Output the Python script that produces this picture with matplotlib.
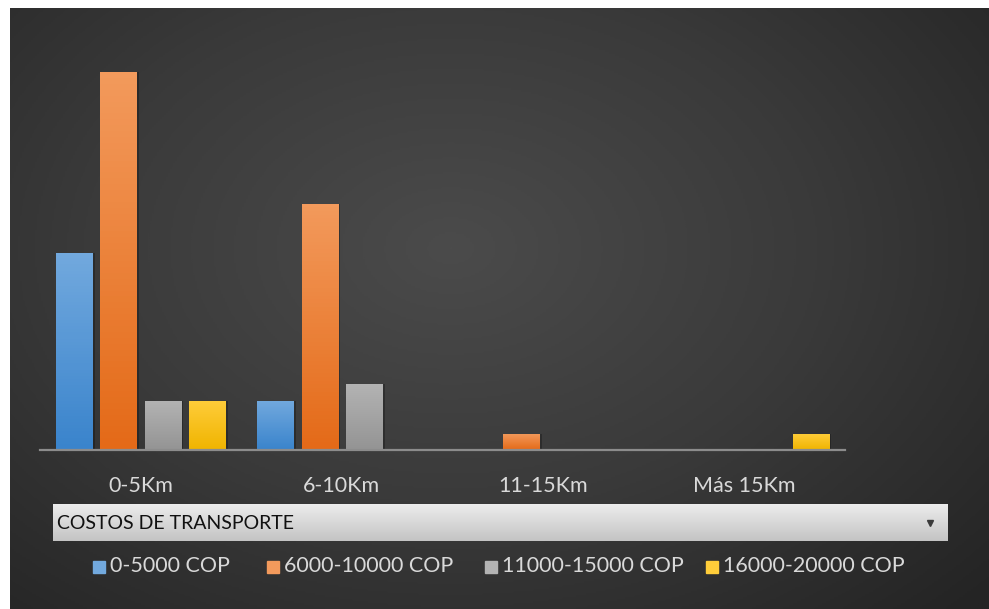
import numpy as np
import matplotlib

matplotlib.use("Agg")
import matplotlib.pyplot as plt
from matplotlib.colors import LinearSegmentedColormap
from matplotlib.patches import Rectangle

plt.rcParams["font.family"] = ["Lato", "DejaVu Sans"]

categories = ["0-5Km", "6-10Km", "11-15Km", "Más 15Km"]
series = ["0-5000 COP", "6000-10000 COP", "11000-15000 COP", "16000-20000 COP"]
values = {
    "0-5000 COP": [12, 3, 0, 0],
    "6000-10000 COP": [23, 15, 1, 0],
    "11000-15000 COP": [3, 4, 0, 0],
    "16000-20000 COP": [3, 0, 0, 1],
}
field_title = "COSTOS DE TRANSPORTE"

# (top, bottom) shades for each series' bar gradient
shades = [("#72a9de", "#3a84cc"), ("#f39a5c", "#e46a18"),
          ("#b3b3b3", "#949494"), ("#ffcd3a", "#f0b400")]

W, H = 989, 609
fig = plt.figure(figsize=(W / 100, H / 100), dpi=100, facecolor="white")


def fx(px):
    return px / W


def fy(py):
    return 1 - py / H


# dark panel with a soft radial highlight
bg = fig.add_axes([fx(10), 0, 1 - fx(10), 1 - 8 / H])
bg.set_axis_off()
yy, xx = np.mgrid[0:1:300j, 0:1:500j]
r = np.sqrt(((xx - 0.45) / 0.75) ** 2 + ((yy - 0.40) / 0.85) ** 2)
bg_cmap = LinearSegmentedColormap.from_list("bg", ["#4b4b4b", "#3a3a3a", "#242424"])
bg.imshow(np.clip(r, 0, 1), cmap=bg_cmap, vmin=0, vmax=1, aspect="auto",
          extent=(0, 1, 0, 1), origin="upper")
bg.set_xlim(0, 1)
bg.set_ylim(0, 1)

# plot area
base_px, unit_px, ymax = 450, 16.43, 25
ax = fig.add_axes([fx(40), fy(base_px), fx(845) - fx(40), ymax * unit_px / H])
ax.patch.set_alpha(0)
x = np.arange(len(categories))
slot, bw = 0.22, 0.18
for i, name in enumerate(series):
    bars = ax.bar(x + (i - 1.5) * slot, values[name], bw, color="none", lw=0, zorder=2)
    cm = LinearSegmentedColormap.from_list(name, [shades[i][1], shades[i][0]])
    for b in bars:
        h = b.get_height()
        if h <= 0:
            continue
        x0 = b.get_x()
        # faint drop shadow
        ax.add_patch(Rectangle((x0 + 0.012, 0), bw, h, color="black", alpha=0.25,
                               lw=0, zorder=1))
        grad = np.linspace(0, 1, 64).reshape(-1, 1)
        im = ax.imshow(grad, cmap=cm, aspect="auto", origin="lower",
                       extent=(x0, x0 + bw, 0, h), zorder=2)
        im.set_clip_path(b)
ax.set_xlim(-0.5, 3.5)
ax.set_ylim(0, ymax)
ax.set_yticks([])
ax.set_xticks(x, categories)
ax.tick_params(axis="x", length=0, pad=19, labelsize=15.5, labelcolor="#d9d9d9")
for s in ("top", "right", "left"):
    ax.spines[s].set_visible(False)
ax.spines["bottom"].set_color("#8c8c8c")
ax.spines["bottom"].set_linewidth(1.6)
ax.spines["bottom"].set_zorder(3)

# field button strip
band = fig.add_axes([fx(53), fy(541), fx(948) - fx(53), (541 - 504) / H])
band.set_axis_off()
band.imshow(np.linspace(0, 1, 32).reshape(-1, 1), aspect="auto",
            cmap=LinearSegmentedColormap.from_list("band", ["#ececec", "#c4c4c4"]),
            extent=(0, 1, 0, 1))
band.set_xlim(0, 1)
band.set_ylim(0, 1)
band.text(0.004, 0.48, field_title, fontsize=14, color="#111111", va="center")
band.plot([0.980], [0.5], marker="v", ms=5, color="#3a3a3a")

# legend row
leg_x = [93, 267, 485, 706]
for i, name in enumerate(series):
    fig.patches.append(Rectangle((fx(leg_x[i]), fy(573)), fx(12), 12 / H,
                                 transform=fig.transFigure, color=shades[i][0]))
    fig.text(fx(leg_x[i] + 17), fy(566), name, fontsize=15.5, color="#d9d9d9",
             va="center")

fig.savefig("out.png", dpi=100, facecolor="white")
